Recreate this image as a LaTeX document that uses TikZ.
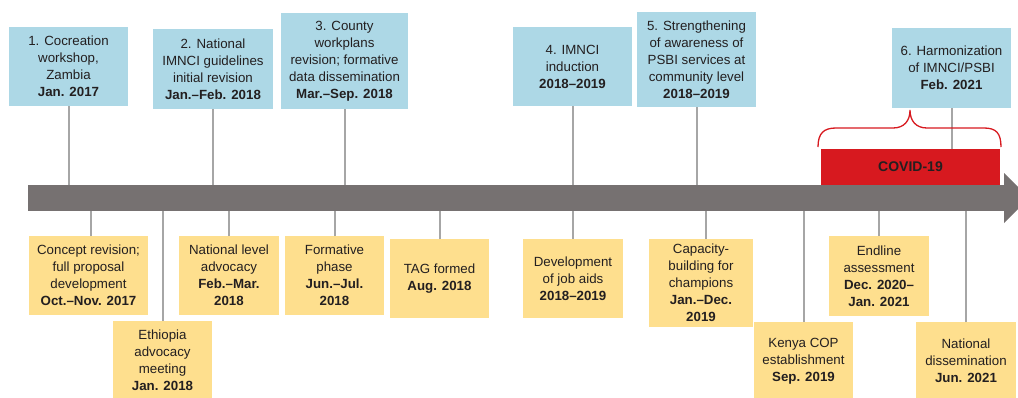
\documentclass[tikz,border=0pt]{standalone}
\usepackage{fontspec}
\setmainfont{Liberation Sans}
\definecolor{topblue}{HTML}{ADD8E6}
\definecolor{phase}{HTML}{FEDF8E}
\definecolor{axis}{HTML}{767171}
\definecolor{stem}{HTML}{A6A6A6}
\definecolor{covid}{HTML}{D7191F}
\definecolor{ink}{HTML}{231F20}
\begin{document}
\begin{tikzpicture}[x=1pt,y=-1pt,
  every node/.style={inner sep=0pt, outer sep=0pt},
  card/.style={align=center, text=ink, font=\fontsize{13.3}{17}\selectfont},
  topcard/.style={card, fill=topblue},
  botcard/.style={card, fill=phase},
  stemline/.style={draw=stem, line width=2pt},
  bracepen/.style={draw=covid, line width=1.3pt}]
\useasboundingbox (0,0) rectangle (1018,397);
\clip (0,0) rectangle (1018,397);

% milestones above the time axis
\node[topcard, minimum width=119, minimum height=79] (b1) at (68.5,66.5)
  {1. Cocreation\\workshop,\\Zambia\\\textbf{Jan. 2017}};
\node[topcard, minimum width=120, minimum height=80] (b2) at (213,69)
  {2. National\\IMNCI guidelines\\initial revision\\\textbf{Jan.–Feb. 2018}};
\node[topcard, minimum width=127, minimum height=96] (b3) at (344.5,61)
  {3. County\\workplans\\revision; formative\\data dissemination\\\textbf{Mar.–Sep. 2018}};
\node[topcard, minimum width=119, minimum height=79] (b4) at (572.5,66.5)
  {4. IMNCI\\induction\\\textbf{2018–2019}};
\node[topcard, minimum width=119, minimum height=95] (b5) at (696.5,59.5)
  {5. Strengthening\\of awareness of\\PSBI services at\\community level\\\textbf{2018–2019}};
\node[topcard, minimum width=119, minimum height=80] (b6) at (951.5,68)
  {6. Harmonization\\of IMNCI/PSBI\\\textbf{Feb. 2021}};

% activities below the time axis
\node[botcard, minimum width=119, minimum height=79] (y1) at (88.5,275.5)
  {Concept revision;\\full proposal\\development\\\textbf{Oct.–Nov. 2017}};
\node[botcard, minimum width=99, minimum height=79] (y2) at (162.5,360.5)
  {Ethiopia\\advocacy\\meeting\\\textbf{Jan. 2018}};
\node[botcard, minimum width=100, minimum height=79] (y3) at (229,275.5)
  {National level\\advocacy\\\textbf{Feb.–Mar.}\\\textbf{2018}};
\node[botcard, minimum width=99, minimum height=79] (y4) at (334.5,275.5)
  {Formative\\phase\\\textbf{Jun.–Jul.}\\\textbf{2018}};
\node[botcard, minimum width=99, minimum height=79] (y5) at (439.5,278.5)
  {TAG formed\\\textbf{Aug. 2018}};
\node[botcard, minimum width=100, minimum height=79] (y6) at (573,278.5)
  {Development\\of job aids\\\textbf{2018–2019}};
\node[botcard, minimum width=104, minimum height=88] (y7) at (701,283)
  {Capacity-\\building for\\champions\\\textbf{Jan.–Dec.}\\\textbf{2019}};
\node[botcard, minimum width=99, minimum height=78] (y8) at (803.5,361)
  {Kenya COP\\establishment\\\textbf{Sep. 2019}};
\node[botcard, minimum width=100, minimum height=80] (y9) at (879,276)
  {Endline\\assessment\\\textbf{Dec. 2020–}\\\textbf{Jan. 2021}};
\node[botcard, minimum width=100, minimum height=78] (y10) at (966,361)
  {National\\dissemination\\\textbf{Jun. 2021}};

% time axis with arrow head
\node[fill=axis, minimum width=976, minimum height=26, anchor=north west] (bar) at (28,185) {};
\fill[axis] (bar.north east) ++(0,-12) -- ++(25,25) -- ++(-25,25) -- cycle;

% stems joining cards to the axis
\foreach \n in {b1,b2,b3,b4,b5,b6}
  \draw[stemline] (\n.south) -- (\n.south |- bar.north);
\foreach \n in {y2,y3,y4,y5,y6,y8,y9,y10}
  \draw[stemline] (\n.north) -- (\n.north |- bar.south);
\draw[stemline] ([xshift=2.5pt]y1.north) -- ([xshift=2.5pt]y1.north |- bar.south);
\draw[stemline] ([xshift=5pt]y7.north) -- ([xshift=5pt]y7.north |- bar.south);

% COVID-19 period
\node[fill=covid, minimum width=179, minimum height=36, anchor=south west,
  font=\fontsize{14}{17}\selectfont\bfseries, text=ink] (covid) at (821,185) {COVID-19};
\draw[bracepen] (818,147) .. controls (818,133) and (824,128) .. (836,128)
  -- (893,128) .. controls (904,128) and (910,121) .. (910,110)
  .. controls (910,121) and (916,128) .. (927,128)
  -- (984,128) .. controls (996,128) and (1001,133) .. (1001,147);
\end{tikzpicture}
\end{document}
